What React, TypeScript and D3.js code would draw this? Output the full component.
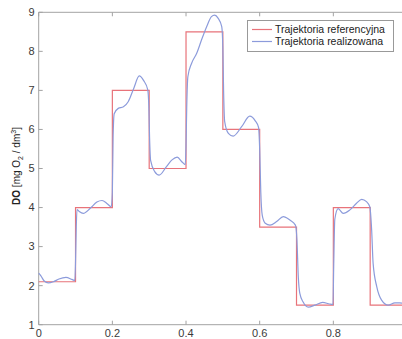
import React, { useRef, useEffect } from "react";
import * as d3 from "d3";

// reference trajectory (step after each breakpoint)
const refX = [0, 0.1, 0.2, 0.3, 0.4, 0.5, 0.6, 0.7, 0.8, 0.9, 1.0];
const refY = [2.1, 4, 7, 5, 8.5, 6, 3.5, 1.5, 4, 1.5, 1.5];

// realised trajectory
const realX = [
  0, 0.006, 0.015, 0.026, 0.04, 0.055, 0.074, 0.09, 0.098, 0.1, 0.102, 0.104, 0.11, 0.121, 0.14, 0.158, 0.172,
  0.186, 0.197, 0.2, 0.202, 0.205, 0.216, 0.23, 0.243, 0.258, 0.273, 0.285, 0.296, 0.299, 0.301, 0.304, 0.315,
  0.327, 0.347, 0.362, 0.376, 0.39, 0.398, 0.4, 0.402, 0.405, 0.415, 0.429, 0.442, 0.456, 0.469, 0.478, 0.487,
  0.497, 0.5, 0.502, 0.505, 0.515, 0.528, 0.551, 0.573, 0.588, 0.597, 0.6, 0.603, 0.607, 0.615, 0.628, 0.646,
  0.664, 0.682, 0.697, 0.701, 0.705, 0.709, 0.718, 0.732, 0.75, 0.771, 0.79, 0.799, 0.801, 0.804, 0.813, 0.827,
  0.845, 0.863, 0.877, 0.89, 0.899, 0.904, 0.908, 0.918, 0.931, 0.949, 0.967, 0.98, 1.0,
];
const realY = [
  2.32, 2.25, 2.12, 2.07, 2.1, 2.17, 2.21, 2.16, 2.13, 2.6, 3.5, 3.95, 3.9, 3.85, 3.98, 4.14, 4.18,
  4.1, 4.02, 4.4, 5.8, 6.4, 6.54, 6.58, 6.71, 7.05, 7.37, 7.25, 7.02, 6.6, 5.8, 5.2, 4.92,
  4.83, 5.05, 5.22, 5.29, 5.16, 5.1, 5.6, 6.6, 7.35, 7.69, 7.95, 8.29, 8.63, 8.89, 8.93, 8.85,
  8.63, 8.1, 7.0, 6.2, 5.9, 5.83, 6.07, 6.34, 6.22, 6.05, 5.5, 4.4, 3.8, 3.6, 3.55, 3.64,
  3.77, 3.68, 3.55, 3.2, 2.2, 1.8, 1.58, 1.45, 1.5, 1.57, 1.53, 1.52, 2.5, 3.7, 3.97, 3.85,
  3.94, 4.11, 4.21, 4.15, 4.02, 3.43, 2.57, 1.97, 1.63, 1.5, 1.56, 1.56, 1.5,
];

// the 1.0 tick sits past the cropped right edge, so it gets no label
const xTicks = [0, 0.2, 0.4, 0.6, 0.8];
const yTicks = [1, 2, 3, 4, 5, 6, 7, 8, 9];
const legendLabels = ["Trajektoria referencyjna", "Trajektoria realizowana"];

const RED = "#e8737a";
const BLUE = "#8c9bdb";
const AXIS = "#a3a3a3";
const FONT = "Liberation Sans, Arial, sans-serif";

const App: React.FC = () => {
  const svgRef = useRef<SVGSVGElement | null>(null);
  const width = 402;
  const height = 339;
  const margin = { top: 12.3, left: 38.7 };

  useEffect(() => {
    const svg = d3.select(svgRef.current);
    svg.selectAll("*").remove();

    const x = d3.scaleLinear().domain([0, 1]).range([margin.left, 407]);
    const y = d3.scaleLinear().domain([1, 9]).range([324.7, margin.top]);

    const g = svg.append("g");

    // box lines (right side falls outside the picture)
    g.append("line")
      .attr("x1", x(0)).attr("x2", x(1)).attr("y1", y(9)).attr("y2", y(9))
      .attr("stroke", AXIS);
    g.append("line")
      .attr("x1", x(0)).attr("x2", x(1)).attr("y1", y(1)).attr("y2", y(1))
      .attr("stroke", AXIS);
    g.append("line")
      .attr("x1", x(0)).attr("x2", x(0)).attr("y1", y(1)).attr("y2", y(9))
      .attr("stroke", AXIS);

    // inward ticks
    xTicks.forEach((t) => {
      g.append("line").attr("x1", x(t)).attr("x2", x(t)).attr("y1", y(1)).attr("y2", y(1) - 4).attr("stroke", AXIS);
      g.append("line").attr("x1", x(t)).attr("x2", x(t)).attr("y1", y(9)).attr("y2", y(9) + 4).attr("stroke", AXIS);
      g.append("text")
        .attr("x", x(t))
        .attr("y", y(1) + 12)
        .attr("text-anchor", "middle")
        .attr("font-family", FONT)
        .attr("font-size", 11)
        .attr("fill", "#3a3a3a")
        .text(t === 0 ? "0" : d3.format(".1f")(t));
    });
    yTicks.forEach((t) => {
      g.append("line").attr("x1", x(0)).attr("x2", x(0) + 4).attr("y1", y(t)).attr("y2", y(t)).attr("stroke", AXIS);
      g.append("text")
        .attr("x", x(0) - 4)
        .attr("y", y(t))
        .attr("dy", "0.35em")
        .attr("text-anchor", "end")
        .attr("font-family", FONT)
        .attr("font-size", 11)
        .attr("fill", "#3a3a3a")
        .text(String(t));
    });

    // y label
    const label = g
      .append("text")
      .attr("transform", `translate(20,166) rotate(-90)`)
      .attr("text-anchor", "middle")
      .attr("font-family", FONT)
      .attr("font-size", 10)
      .attr("fill", "#222");
    label.append("tspan").attr("font-weight", "bold").text("DO");
    label.append("tspan").text("  [mg O");
    label.append("tspan").attr("font-size", 7).attr("dy", 3).text("2");
    label.append("tspan").attr("dy", -3).text(" / dm");
    label.append("tspan").attr("font-size", 7).attr("dy", -4).text("3");
    label.append("tspan").attr("dy", 4).text("]");

    // reference step line
    const refData = refX.map((v, i) => [v, refY[i]] as [number, number]);
    g.append("path")
      .datum(refData)
      .attr("fill", "none")
      .attr("stroke", RED)
      .attr("stroke-width", 1.2)
      .attr("d", d3.line<[number, number]>().x((d) => x(d[0])).y((d) => y(d[1])).curve(d3.curveStepAfter));

    // realised trajectory
    const realData = realX.map((v, i) => [v, realY[i]] as [number, number]);
    g.append("path")
      .datum(realData)
      .attr("fill", "none")
      .attr("stroke", BLUE)
      .attr("stroke-width", 1.2)
      .attr("d", d3.line<[number, number]>().x((d) => x(d[0])).y((d) => y(d[1])).curve(d3.curveMonotoneX));

    // legend
    const lg = g.append("g");
    lg.append("rect")
      .attr("x", 247.5).attr("y", 20.5).attr("width", 146).attr("height", 31)
      .attr("fill", "#fff").attr("stroke", "#999");
    [RED, BLUE].forEach((c, i) => {
      const ly = 29.5 + i * 12;
      lg.append("line").attr("x1", 252).attr("x2", 272).attr("y1", ly).attr("y2", ly).attr("stroke", c).attr("stroke-width", 1.2);
      lg.append("text")
        .attr("x", 275)
        .attr("y", ly)
        .attr("dy", "0.35em")
        .attr("font-family", FONT)
        .attr("font-size", 10.5)
        .attr("fill", "#222")
        .text(legendLabels[i]);
    });
  }, []);

  return (
    <svg
      ref={svgRef}
      width={width}
      height={height}
      style={{ position: "absolute", left: 0, top: 0, background: "#fff" }}
    />
  );
};

export default App;
